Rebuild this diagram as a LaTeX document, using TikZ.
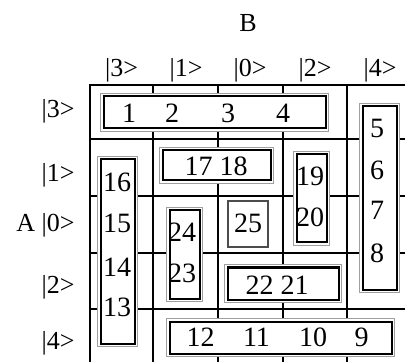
\documentclass[tikz,border=0pt]{standalone}
\usepackage{fontspec}
\setmainfont{Liberation Serif}
\usetikzlibrary{positioning}

\begin{document}
\begin{tikzpicture}[x=0.5pt,y=-0.5pt,
  grp/.style={draw=black,line width=1pt,fill=white,inner sep=0pt,
    preaction={draw=gray!75,line width=3.3pt},
    preaction={draw=white,line width=2.4pt}},
  onebox/.style={draw=black!70,line width=0.6pt,fill=white,inner sep=0pt},
  lbl/.style={inner sep=0pt,font=\fontsize{13}{15}\selectfont},
  num/.style={inner sep=0pt,font=\fontsize{14}{16}\selectfont}]
\useasboundingbox (0,0) rectangle (405,362);
% map lines
\draw[line width=1pt] (405,85) -- (90,85) -- (90,362);
\draw[line width=1pt] (153,85) -- (153,362) (218,85) -- (218,362) (283,85) -- (283,362) (347,85) -- (347,362);
\draw[line width=1pt] (90,139) -- (405,139) (90,196) -- (405,196) (90,253) -- (405,253) (90,309) -- (405,309);
% headings
\node[lbl,anchor=base] (colB) at (248,32) {B};
\node[lbl,anchor=base] (c3) at (121.5,77) {|3>};
\node[lbl,anchor=base] (c1) at (186,77) {|1>};
\node[lbl,anchor=base] (c0) at (250,77) {|0>};
\node[lbl,anchor=base] (c2) at (315,77) {|2>};
\node[lbl,anchor=base] (c4) at (380,77) {|4>};
\node[lbl,anchor=base east] (r3) at (75,118) {|3>};
\node[lbl,anchor=base east] (r1) at (75,182) {|1>};
\node[lbl,anchor=base east] (r0) at (75,232) {A |0>};
\node[lbl,anchor=base east] (r2) at (75,293) {|2>};
\node[lbl,anchor=base east] (r4) at (75,349) {|4>};
% groups
\node[grp,minimum width=111pt,minimum height=16pt] (b1234) at (214.5,112.5) {};
\node[grp,minimum width=17pt,minimum height=91.5pt] (b5678) at (379.5,198) {};
\node[grp,minimum width=17pt,minimum height=92pt] (b1613) at (117.5,251.5) {};
\node[grp,minimum width=54pt,minimum height=15pt] (b1718) at (216.5,165.5) {};
\node[grp,minimum width=15pt,minimum height=44pt] (b1920) at (311.5,198.5) {};
\node[grp,minimum width=15pt,minimum height=44pt] (b2423) at (184.5,254.5) {};
\node[onebox,minimum width=20pt,minimum height=23pt] (b25) at (248,224) {};
\node[grp,minimum width=55.5pt,minimum height=16pt] (b2221) at (283,283.5) {};
\node[grp,minimum width=111pt,minimum height=16pt] (b1209) at (280.5,337.5) {};
% cells
\node[num] (n1) at (129,113) {1};
\node[num] (n2) at (172,113) {2};
\node[num] (n3) at (228,113) {3};
\node[num] (n4) at (283,113) {4};
\node[num] (n5) at (377,128) {5};
\node[num] (n6) at (377,170) {6};
\node[num] (n7) at (377,210) {7};
\node[num] (n8) at (377,253) {8};
\node[num] (n9) at (361.5,337) {9};
\node[num] (n10) at (313,337) {10};
\node[num] (n11) at (256.5,337) {11};
\node[num] (n12) at (200.5,337) {12};
\node[num] (n13) at (117,307) {13};
\node[num] (n14) at (117,267) {14};
\node[num] (n15) at (117,223) {15};
\node[num] (n16) at (117,182) {16};
\node[num] (n1718) at (216,166) {17 18};
\node[num] (n19) at (310,176) {19};
\node[num] (n20) at (310,217) {20};
\node[num] (n2221) at (277,285) {22 21};
\node[num] (n24) at (182,232) {24};
\node[num] (n23) at (182,273) {23};
\node[num] (n25) at (248,223) {25};
\end{tikzpicture}
\end{document}
